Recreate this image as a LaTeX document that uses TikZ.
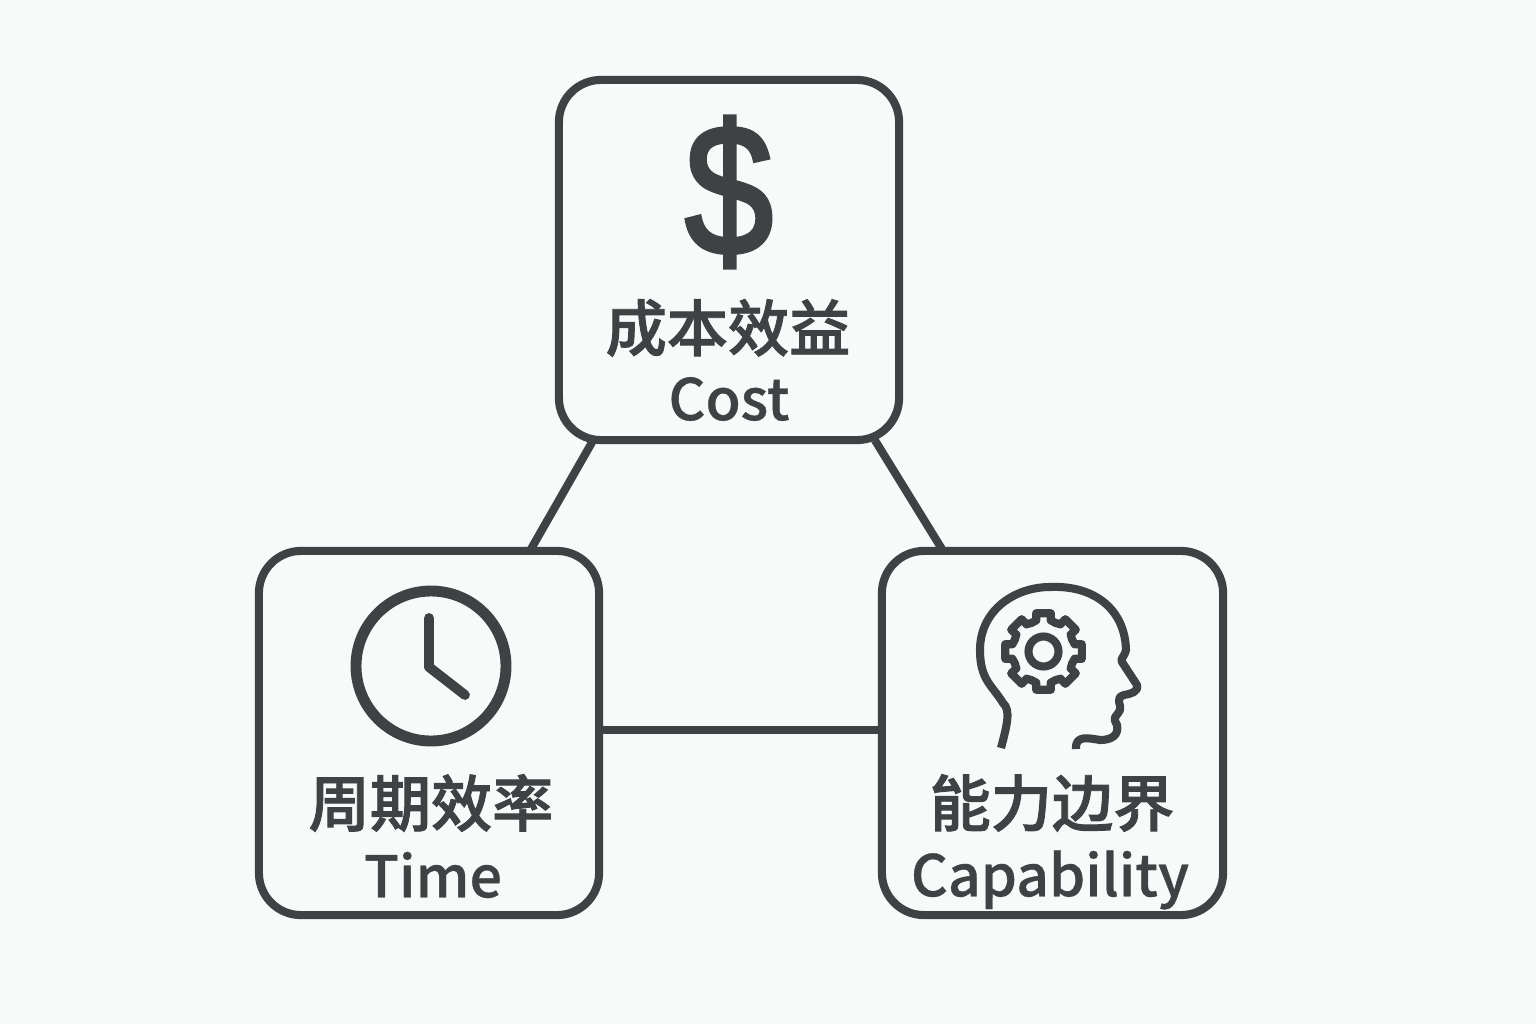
\documentclass[tikz,border=0pt]{standalone}
\usepackage{fontspec}
\setmainfont{Noto Sans CJK SC Medium}[FakeBold=.6]
\newfontfamily\zhfont{Noto Sans CJK SC Medium}[FakeBold=1.5]
\newfontfamily\dollarfont{Liberation Sans}[FakeBold=2.4]
\definecolor{ink}{HTML}{3F4144}
\definecolor{paper}{HTML}{F8FAF9}
\tikzset{
  topicbox/.style={draw=ink,line width=2.3pt,fill=paper,rounded corners=12pt,inner sep=0pt,outer sep=0pt},
  zhlabel/.style={text=ink,font=\zhfont\fontsize{17.4}{20}\selectfont,inner sep=0pt},
  enlabel/.style={text=ink,font=\fontsize{16.3}{20}\selectfont,inner sep=0pt},
  link/.style={draw=ink,line width=2.3pt},
  iconline/.style={draw=ink,line width=2.3pt,line join=round}
}
\begin{document}
\begin{tikzpicture}[x=.01cm,y=-.01cm]
  \useasboundingbox[fill=paper] (0,0) rectangle (1536,1024);
  % boxes
  \node[topicbox,minimum width=3.40cm,minimum height=3.60cm] (cost) at (729,260) {};
  \node[topicbox,minimum width=3.40cm,minimum height=3.64cm] (time) at (429,733) {};
  \node[topicbox,minimum width=3.41cm,minimum height=3.64cm] (capability) at (1052.5,733) {};
  % links
  \draw[link] (cost.233) -- (time.61.5);
  \draw[link] (cost.309) -- (capability.121.5);
  \draw[link] (time.east |- 0,730) -- (capability.west |- 0,730);
  % labels
  \node[zhlabel] (costzh) at (728,328) {成本效益};
  \node[enlabel] (costen) at (729,399) {Cost};
  \node[zhlabel] (timezh) at (431,803) {周期效率};
  \node[enlabel] (timeen) at (433,875) {Time};
  \node[zhlabel] (capzh) at (1052,803) {能力边界};
  \node[enlabel] (capen) at (1050,880) {Capability};
  % dollar
  \node[text=ink,inner sep=0pt,font=\dollarfont\fontsize{49}{50}\selectfont] (dollar) at (729,192) {\scalebox{.92}[1.08]{\$}};
  % clock
  \draw[ink,line width=3.1pt] (431,666) circle (75);
  \draw[ink,line width=2.8pt,line cap=round,line join=round] (429,618) -- (429,667) -- (465,695);
  % head
  \draw[iconline] (1001,748) .. controls (1007,725) and (1011,710) .. (1003,703)
    .. controls (992,685) and (980,680) .. (980,650)
    .. controls (980,610) and (1015,587) .. (1050,587)
    .. controls (1095,585) and (1125,610) .. (1126,650)
    .. controls (1124,658) and (1120,658) .. (1122,662)
    -- (1137,685) .. controls (1139,692) and (1130,694) .. (1124,695)
    .. controls (1114,698) and (1122,705) .. (1120,710)
    .. controls (1116,718) and (1112,716) .. (1117,725)
    .. controls (1119,735) and (1112,740) .. (1100,740)
    .. controls (1088,738) and (1075,735) .. (1076,749);
  % gear
  \begin{scope}[shift={(1043.5,651.5)}]
    \draw[iconline] (0,0) circle (15);
    \foreach \a in {0,45,...,315}
      \draw[iconline,line cap=round] (\a-22.5:31) -- (\a-13:32) -- (\a-11:39) -- (\a+11:39) -- (\a+13:32) -- (\a+22.5:31);
  \end{scope}
\end{tikzpicture}
\end{document}
